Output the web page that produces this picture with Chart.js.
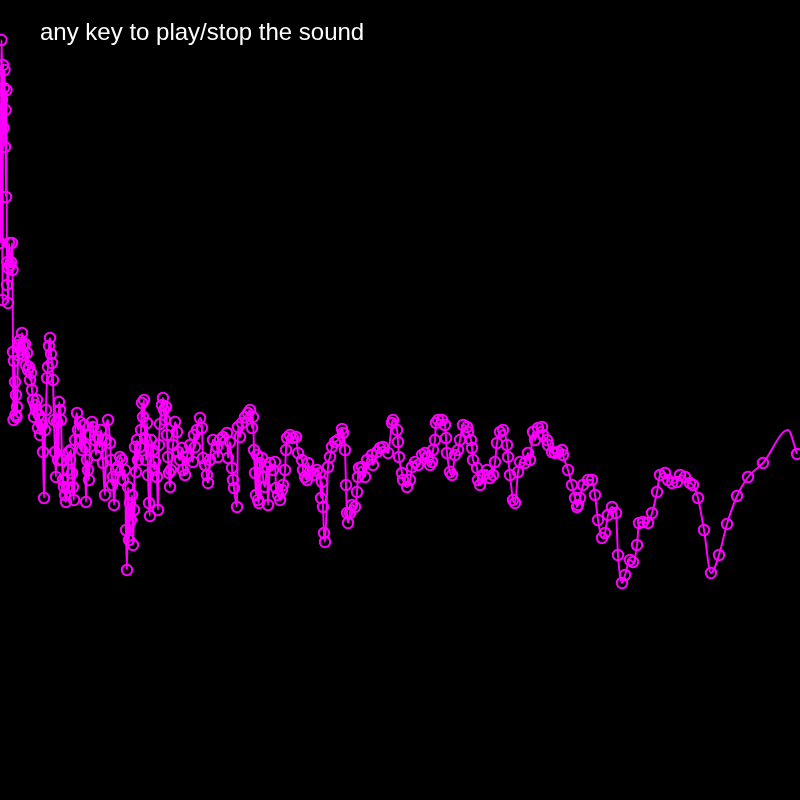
<!DOCTYPE html>
<html>
<head>
<meta charset="utf-8">
<script src="https://cdn.jsdelivr.net/npm/chart.js@4/dist/chart.umd.min.js"></script>
<style>
  html, body { margin: 0; padding: 0; background: #000; }
  #wrap { position: relative; width: 800px; height: 800px; background: #000; }
  #title { position: absolute; left: 40px; top: 20px; color: #fff; font-family: "Liberation Sans", Arial, Helvetica, sans-serif; font-size: 24px; line-height: 24px; white-space: nowrap; z-index: 2; }
  canvas { position: absolute; left: 0; top: 0; }
</style>
</head>
<body>
<div id="wrap">
  <canvas id="c" width="800" height="800"></canvas>
  <div id="title">any key to play/stop the sound</div>
</div>
<script>
const titleText = "any key to play/stop the sound";

// Frequency of each analysed band (Hz)
const freqHz = [
  0,10,15,20,25,30,35,40,45,50,55,60,65,70,75,80,85,90,100,110,120,125,130,135,140,150,155,160,165,170,
  180,190,200,210,220,230,240,250,260,270,280,290,300,310,320,330,340,350,360,370,380,390,400,410,420,430,440,450,460,470,480,490,500,510,520,530,540,550,560,570,580,590,600,610,620,630,640,650,660,670,680,690,700,
  710,720,730,740,750,770,780,800,810,820,840,850,860,870,880,890,900,920,930,950,960,980,1000,1010,1030,1050,1060,1080,1100,1110,1120,1130,1140,1160,1180,1200,1220,1230,1250,1260,1270,1280,1290,1300,1310,1320,1330,1340,1350,1360,1370,1380,1400,1410,1420,1430,1440,1450,1460,1470,1480,1490,1500,1510,1530,1540,1550,1570,1580,1590,
  1600,1620,1630,1640,1650,1660,1670,1680,1690,1700,1710,1730,1750,1770,1780,1800,1820,1830,1850,1870,1900,1930,1940,1950,1970,2000,2020,2030,2050,2070,2080,2100,2130,2170,2180,2200,2230,2270,2280,2300,2320,2330,2340,2370,2380,2400,2420,2450,2480,2500,
  2520,2530,2540,2550,2560,2570,2580,2590,2600,2620,2630,2650,2670,2680,2700,2730,2750,2760,2780,2800,2820,2830,2850,2860,2870,2900,2930,2960,2980,3020,3030,3050,3070,3080,3100,3130,3170,3200,3210,3220,3230,3240,3250,3280,3300,3320,3350,3380,
  3420,3430,3450,3460,3470,3480,3500,3520,3550,3570,3580,3590,3620,3650,3670,3720,3730,3770,3800,3830,3880,3920,3930,3970,3980,3990,4020,4030,4070,4100,4120,4150,4180,4220,4250,4280,4300,4320,4330,4350,4360,4380,4420,4450,4460,4470,4500,4520,4550,4580,4600,4630,4670,4680,4710,4720,4730,4770,4780,4800,4830,4870,4900,4930,4950,4970,5000,5030,5070,5080,5100,5130,5150,5180,5200,5250,5280,5300,5330,5350,5380,5420,5430,5470,5480,5520,5550,5580,5620,5630,5680,5720,5750,5770,5780,5800,5830,5880,5920,5950,5980,6020,6050,6080,6120,6160,6180,6220,6250,6300,6330,6370,6390,6430,6480,6520,6570,6600,6650,6680,6720,6770,6800,6850,6900,6930,6980,7040,7110,7190,7270,7370,7480,7630,7880,7970
];

// Level of each band (dB)
const levelDb = [
  -24.3,-13.5,-4.0,-10.0,-30.0,-6.5,-12.8,-8.8,-7.0,-14.7,-11.0,-19.7,-9.0,-28.5,-26.2,-30.3,-26.8,-24.3,-26.5,-26.2,-24.3,-27.0,-35.2,-42.0,-36.1,-38.2,-41.5,-39.5,-41.7,-40.7,
  -35.5,-34.5,-34.0,-35.0,-33.3,-34.5,-35.5,-34.4,-36.5,-35.3,-37.0,-36.7,-38.0,-37.3,-39.0,-40.0,-41.7,-40.5,-41.0,-40.0,-42.8,-41.5,-43.5,-42.0,-42.5,-45.2,-49.8,-43.0,-41.0,-37.8,-36.7,-34.6,-33.8,-35.4,-36.3,-38.0,-42.0,-45.2,-47.7,-42.2,-46.0,-40.2,-41.0,-42.0,-46.0,-48.0,-48.7,-49.5,-50.2,-48.8,-47.0,-45.2,-46.0,
  -45.0,-47.3,-48.7,-50.0,-44.0,-41.3,-43.0,-42.2,-44.0,-45.0,-42.5,-44.7,-50.2,-46.0,-47.0,-48.0,-43.5,-42.2,-42.7,-44.0,-45.5,-43.7,-44.7,-43.0,-46.3,-49.5,-44.0,-42.0,-44.3,-46.0,-48.5,-47.7,-50.5,-47.0,-46.7,-45.7,-46.0,-48.0,-47.0,-53.0,-57.0,-48.7,-54.0,-50.3,-52.0,-49.5,-54.5,-51.0,-44.7,-47.2,-44.0,-46.0,-44.7,-43.0,-40.3,-41.7,-40.0,-43.8,-46.0,-42.3,-47.5,-50.3,-51.6,-44.0,-45.0,-47.0,-46.2,-47.7,-51.0,-44.5,
  -42.4,-40.5,-39.8,-41.0,-42.0,-40.7,-43.5,-45.7,-47.3,-48.7,-47.0,-44.5,-42.2,-43.2,-45.2,-46.0,-44.8,-47.0,-47.5,-45.7,-44.5,-46.2,-43.5,-44.7,-43.0,-41.8,-42.8,-45.8,-46.5,-47.5,-48.3,-46.0,-44.0,-44.7,-45.7,-44.0,-43.7,-43.3,-45.8,-44.2,-46.8,-48.0,-48.8,-50.7,-42.7,-43.7,-42.3,-41.7,-41.3,-41.0,
  -42.8,-41.7,-45.0,-47.3,-49.5,-45.5,-50.0,-50.3,-46.3,-45.8,-47.7,-48.7,-46.7,-50.5,-46.3,-47.0,-46.2,-48.8,-49.5,-50.0,-49.0,-48.5,-47.0,-45.0,-43.8,-43.5,-43.8,-43.7,-45.3,-46.0,-47.0,-47.7,-48.0,-46.3,-47.2,-47.5,-47.0,-47.3,-49.8,-48.2,-50.7,-53.3,-54.2,-46.7,-45.7,-44.7,-44.2,-44.0,
  -42.9,-43.3,-45.0,-48.5,-51.3,-52.3,-51.3,-50.5,-50.7,-49.2,-47.7,-46.8,-46.7,-47.7,-46.0,-45.5,-46.5,-45.2,-44.8,-44.7,-45.3,-42.3,-42.0,-43.0,-44.2,-45.7,-47.3,-48.0,-48.7,-48.0,-46.7,-46.2,-46.5,-45.5,-45.3,-45.7,-46.5,-46.2,-45.0,-44.0,-42.3,-42.0,-42.0,-42.5,-43.8,-45.3,-47.2,-47.5,-45.5,-45.0,-44.0,-42.5,-42.7,-43.2,-44.0,-44.8,-46.0,-46.8,-48.0,-48.5,-47.5,-47.0,-47.8,-47.5,-46.2,-44.3,-43.2,-43.0,-44.5,-45.7,-47.5,-50.0,-50.3,-47.2,-46.2,-46.3,-45.3,-46.0,-43.2,-44.0,-42.8,-42.7,-43.5,-44.0,-44.5,-45.2,-45.3,-45.2,-45.0,-45.5,-47.0,-48.5,-49.8,-50.7,-50.5,-49.8,-48.5,-48.0,-48.0,-49.5,-52.0,-53.8,-53.3,-51.5,-50.7,-51.3,-55.5,-58.3,-57.5,-56.0,-56.2,-54.5,-52.3,-52.2,-52.3,-51.3,-49.2,-47.5,-47.3,-48.0,-48.3,-48.2,-47.5,-47.7,-48.3,-48.5,-49.8,-53.0,-57.3,-55.5,-52.4,-49.6,-47.7,-46.3,-43.0,-45.4
];

const xRange = [0, 8000];
const yRange = [-80, 0];

const points = freqHz.map((f, i) => ({ x: f, y: levelDb[i] }));
const apexIndex = freqHz.length - 2;

new Chart(document.getElementById('c'), {
  type: 'line',
  data: {
    datasets: [{
      label: titleText,
      data: points,
      borderColor: '#ff00ff',
      borderWidth: 2,
      cubicInterpolationMode: 'monotone',
      pointStyle: 'circle',
      pointRadius: ctx => ctx.dataIndex === apexIndex ? 0 : 5.2,
      pointBorderWidth: 2,
      pointBorderColor: '#ff00ff',
      pointBackgroundColor: 'rgba(0,0,0,0)',
      fill: false,
      clip: false
    }]
  },
  options: {
    responsive: false,
    animation: false,
    layout: { padding: 0, autoPadding: false },
    plugins: { legend: { display: false }, tooltip: { enabled: false }, title: { display: false } },
    scales: {
      x: { type: 'linear', min: xRange[0], max: xRange[1], display: false },
      y: { type: 'linear', min: yRange[0], max: yRange[1], display: false }
    }
  }
});
</script>
</body>
</html>
